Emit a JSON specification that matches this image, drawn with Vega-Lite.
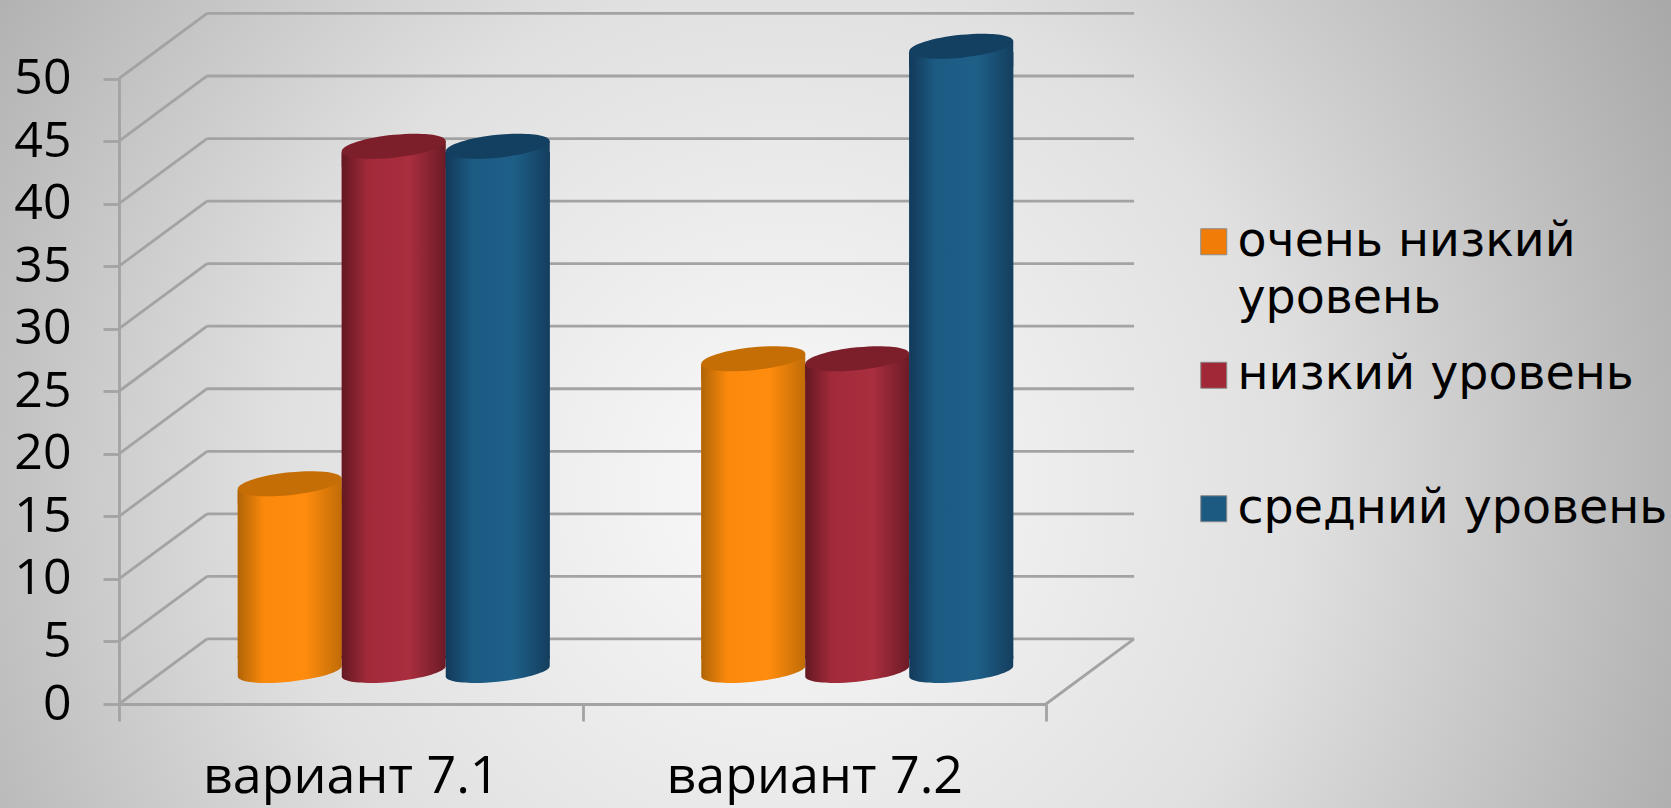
{"$schema":"https://vega.github.io/schema/vega-lite/v6.json","width":1671,"height":808,"padding":0,"autosize":{"type":"none"},"config":{"view":{"stroke":null},"style":{"guide-label":{"lineHeight":57}}},"datasets":{"main":[{"variant":"вариант 7.1","level":"очень низкий уровень","value":15},{"variant":"вариант 7.1","level":"низкий уровень","value":42},{"variant":"вариант 7.1","level":"средний уровень","value":42},{"variant":"вариант 7.2","level":"очень низкий уровень","value":25},{"variant":"вариант 7.2","level":"низкий уровень","value":25},{"variant":"вариант 7.2","level":"средний уровень","value":50}],"grid":[{"x":0.19,"x2":2.19,"y":5.2,"y2":5.2},{"x":0.19,"x2":2.19,"y":10.2,"y2":10.2},{"x":0.19,"x2":2.19,"y":15.2,"y2":15.2},{"x":0.19,"x2":2.19,"y":20.2,"y2":20.2},{"x":0.19,"x2":2.19,"y":25.2,"y2":25.2},{"x":0.19,"x2":2.19,"y":30.2,"y2":30.2},{"x":0.19,"x2":2.19,"y":35.2,"y2":35.2},{"x":0.19,"x2":2.19,"y":40.2,"y2":40.2},{"x":0.19,"x2":2.19,"y":45.2,"y2":45.2},{"x":0.19,"x2":2.19,"y":50.2,"y2":50.2},{"x":0.19,"x2":2.19,"y":55.2,"y2":55.2},{"x":0,"x2":0.19,"y":0,"y2":5.2},{"x":0,"x2":0.19,"y":5,"y2":10.2},{"x":0,"x2":0.19,"y":10,"y2":15.2},{"x":0,"x2":0.19,"y":15,"y2":20.2},{"x":0,"x2":0.19,"y":20,"y2":25.2},{"x":0,"x2":0.19,"y":25,"y2":30.2},{"x":0,"x2":0.19,"y":30,"y2":35.2},{"x":0,"x2":0.19,"y":35,"y2":40.2},{"x":0,"x2":0.19,"y":40,"y2":45.2},{"x":0,"x2":0.19,"y":45,"y2":50.2},{"x":0,"x2":0.19,"y":50,"y2":55.2},{"x":2,"x2":2.19,"y":0,"y2":5.2}]},"layer":[{"data":{"values":[{}]},"mark":{"type":"rect","fill":{"gradient":"radial","x1":0.47,"y1":0.55,"x2":0.47,"y2":0.55,"r1":0,"r2":0.68,"stops":[{"offset":0,"color":"#fafafa"},{"offset":0.45,"color":"#e0e0e0"},{"offset":1,"color":"#9a9a9a"}]}},"encoding":{}},{"data":{"name":"grid"},"mark":{"type":"rule","stroke":"#a3a3a3","strokeWidth":2.8},"encoding":{"x":{"field":"x","type":"quantitative","axis":null,"scale":{"domain":[0,2],"range":[119,1046]}},"x2":{"field":"x2"},"y":{"field":"y","type":"quantitative","axis":null,"scale":{"domain":[0,50],"range":[704,78.5]}},"y2":{"field":"y2"}}},{"data":{"name":"main"},"mark":{"type":"tick","opacity":0},"encoding":{"x":{"field":"variant","type":"nominal","scale":{"range":[119,1046],"paddingInner":0,"paddingOuter":0},"axis":{"orient":"bottom","offset":-104,"zindex":1,"title":null,"labelAngle":0,"labelFont":"Open Sans","labelFontSize":52,"labelLimit":500,"labelColor":"#000","labelPadding":30,"tickBand":"extent","tickSize":17,"tickWidth":2.8,"tickColor":"#a3a3a3","domainWidth":2.8,"domainColor":"#a3a3a3","grid":false}},"y":{"field":"value","type":"quantitative","scale":{"domain":[0,50],"range":[704,78.5]},"axis":{"orient":"left","offset":-119,"zindex":1,"title":null,"values":[0,5,10,15,20,25,30,35,40,45,50],"labelFont":"Open Sans","labelFontSize":50,"labelColor":"#000","labelPadding":32,"tickSize":16,"tickWidth":2.8,"tickColor":"#a3a3a3","domainWidth":2.8,"domainColor":"#a3a3a3","grid":false}}}},{"data":{"name":"main"},"encoding":{"x":{"field":"variant","type":"nominal","axis":null,"scale":{"range":[162,1089],"paddingInner":0.327,"paddingOuter":0.1635}},"xOffset":{"field":"level","type":"nominal","scale":{"domain":["очень низкий уровень","низкий уровень","средний уровень"],"paddingInner":0,"paddingOuter":0}},"y":{"field":"value","type":"quantitative","axis":null,"scale":{"domain":[0,50],"range":[671.25,46.25]}},"y2":{"datum":1}},"layer":[{"mark":{"type":"bar","yOffset":6},"encoding":{"color":{"field":"level","type":"nominal","scale":{"domain":["очень низкий уровень","низкий уровень","средний уровень"],"range":["#f07d08","#a02837","#1c5a82"]},"legend":{"orient":"none","legendX":1190,"legendY":218,"title":null,"gridAlign":"all","columns":1,"symbolType":"square","symbolSize":676,"symbolStrokeWidth":1,"symbolStrokeColor":"#8a8a8a","labelFont":"DejaVu Sans","labelFontSize":47.5,"labelColor":"#000","labelLimit":500,"labelOffset":0,"rowPadding":27.5,"labelExpr":"datum.label == 'очень низкий уровень' ? ['очень низкий','уровень'] : datum.label"}}}},{"transform":[{"filter":"datum.level == 'очень низкий уровень'"}],"layer":[{"mark":{"type":"bar","yOffset":6,"fill":{"gradient":"linear","x1":0,"x2":1,"y1":0,"y2":0,"stops":[{"offset":0,"color":"#b06406"},{"offset":0.25,"color":"#fb890c"},{"offset":0.65,"color":"#ff8c0e"},{"offset":1,"color":"#c06c06"}]}}},{"mark":{"type":"point","filled":true,"opacity":1,"size":10816,"shape":"M-1,0.1 L1,-0.1 L1,0.4 L-1,0.4 Z","fill":{"gradient":"linear","x1":0,"x2":1,"y1":0,"y2":0,"stops":[{"offset":0,"color":"#b06406"},{"offset":0.25,"color":"#fb890c"},{"offset":0.65,"color":"#ff8c0e"},{"offset":1,"color":"#c06c06"}]}},"encoding":{"y2":{"value":null}}},{"mark":{"type":"point","filled":true,"opacity":1,"size":10816,"shape":"M-1,-0.3 L-1,0.1 C-1,0.2105 -0.5523,0.2552 0,0.2 C0.5523,0.1448 1,0.0105 1,-0.1 L1,-0.3 Z","fill":{"gradient":"linear","x1":0,"x2":1,"y1":0,"y2":0,"stops":[{"offset":0,"color":"#b06406"},{"offset":0.25,"color":"#fb890c"},{"offset":0.65,"color":"#ff8c0e"},{"offset":1,"color":"#c06c06"}]}},"encoding":{"y":{"datum":0},"y2":{"value":null}}},{"mark":{"type":"point","filled":true,"opacity":1,"size":10816,"shape":"M1,-0.1 C1,0.0215 0.5523,0.1648 0,0.22 C-0.5523,0.2752 -1,0.2215 -1,0.1 C-1,-0.0215 -0.5523,-0.1648 0,-0.22 C0.5523,-0.2752 1,-0.2215 1,-0.1 Z","fill":"#c66e06"},"encoding":{"y2":{"value":null}}}]},{"transform":[{"filter":"datum.level == 'низкий уровень'"}],"layer":[{"mark":{"type":"bar","yOffset":6,"fill":{"gradient":"linear","x1":0,"x2":1,"y1":0,"y2":0,"stops":[{"offset":0,"color":"#641822"},{"offset":0.25,"color":"#a12a39"},{"offset":0.65,"color":"#a92e3e"},{"offset":1,"color":"#6c1b26"}]}}},{"mark":{"type":"point","filled":true,"opacity":1,"size":10816,"shape":"M-1,0.1 L1,-0.1 L1,0.4 L-1,0.4 Z","fill":{"gradient":"linear","x1":0,"x2":1,"y1":0,"y2":0,"stops":[{"offset":0,"color":"#641822"},{"offset":0.25,"color":"#a12a39"},{"offset":0.65,"color":"#a92e3e"},{"offset":1,"color":"#6c1b26"}]}},"encoding":{"y2":{"value":null}}},{"mark":{"type":"point","filled":true,"opacity":1,"size":10816,"shape":"M-1,-0.3 L-1,0.1 C-1,0.2105 -0.5523,0.2552 0,0.2 C0.5523,0.1448 1,0.0105 1,-0.1 L1,-0.3 Z","fill":{"gradient":"linear","x1":0,"x2":1,"y1":0,"y2":0,"stops":[{"offset":0,"color":"#641822"},{"offset":0.25,"color":"#a12a39"},{"offset":0.65,"color":"#a92e3e"},{"offset":1,"color":"#6c1b26"}]}},"encoding":{"y":{"datum":0},"y2":{"value":null}}},{"mark":{"type":"point","filled":true,"opacity":1,"size":10816,"shape":"M1,-0.1 C1,0.0215 0.5523,0.1648 0,0.22 C-0.5523,0.2752 -1,0.2215 -1,0.1 C-1,-0.0215 -0.5523,-0.1648 0,-0.22 C0.5523,-0.2752 1,-0.2215 1,-0.1 Z","fill":"#7d1e2b"},"encoding":{"y2":{"value":null}}}]},{"transform":[{"filter":"datum.level == 'средний уровень'"}],"layer":[{"mark":{"type":"bar","yOffset":6,"fill":{"gradient":"linear","x1":0,"x2":1,"y1":0,"y2":0,"stops":[{"offset":0,"color":"#12395a"},{"offset":0.25,"color":"#1c5a82"},{"offset":0.65,"color":"#1e5f88"},{"offset":1,"color":"#143e5e"}]}}},{"mark":{"type":"point","filled":true,"opacity":1,"size":10816,"shape":"M-1,0.1 L1,-0.1 L1,0.4 L-1,0.4 Z","fill":{"gradient":"linear","x1":0,"x2":1,"y1":0,"y2":0,"stops":[{"offset":0,"color":"#12395a"},{"offset":0.25,"color":"#1c5a82"},{"offset":0.65,"color":"#1e5f88"},{"offset":1,"color":"#143e5e"}]}},"encoding":{"y2":{"value":null}}},{"mark":{"type":"point","filled":true,"opacity":1,"size":10816,"shape":"M-1,-0.3 L-1,0.1 C-1,0.2105 -0.5523,0.2552 0,0.2 C0.5523,0.1448 1,0.0105 1,-0.1 L1,-0.3 Z","fill":{"gradient":"linear","x1":0,"x2":1,"y1":0,"y2":0,"stops":[{"offset":0,"color":"#12395a"},{"offset":0.25,"color":"#1c5a82"},{"offset":0.65,"color":"#1e5f88"},{"offset":1,"color":"#143e5e"}]}},"encoding":{"y":{"datum":0},"y2":{"value":null}}},{"mark":{"type":"point","filled":true,"opacity":1,"size":10816,"shape":"M1,-0.1 C1,0.0215 0.5523,0.1648 0,0.22 C-0.5523,0.2752 -1,0.2215 -1,0.1 C-1,-0.0215 -0.5523,-0.1648 0,-0.22 C0.5523,-0.2752 1,-0.2215 1,-0.1 Z","fill":"#134060"},"encoding":{"y2":{"value":null}}}]}]}],"resolve":{"scale":{"x":"independent","y":"independent","xOffset":"independent","color":"independent"},"axis":{"x":"independent","y":"independent"}}}
